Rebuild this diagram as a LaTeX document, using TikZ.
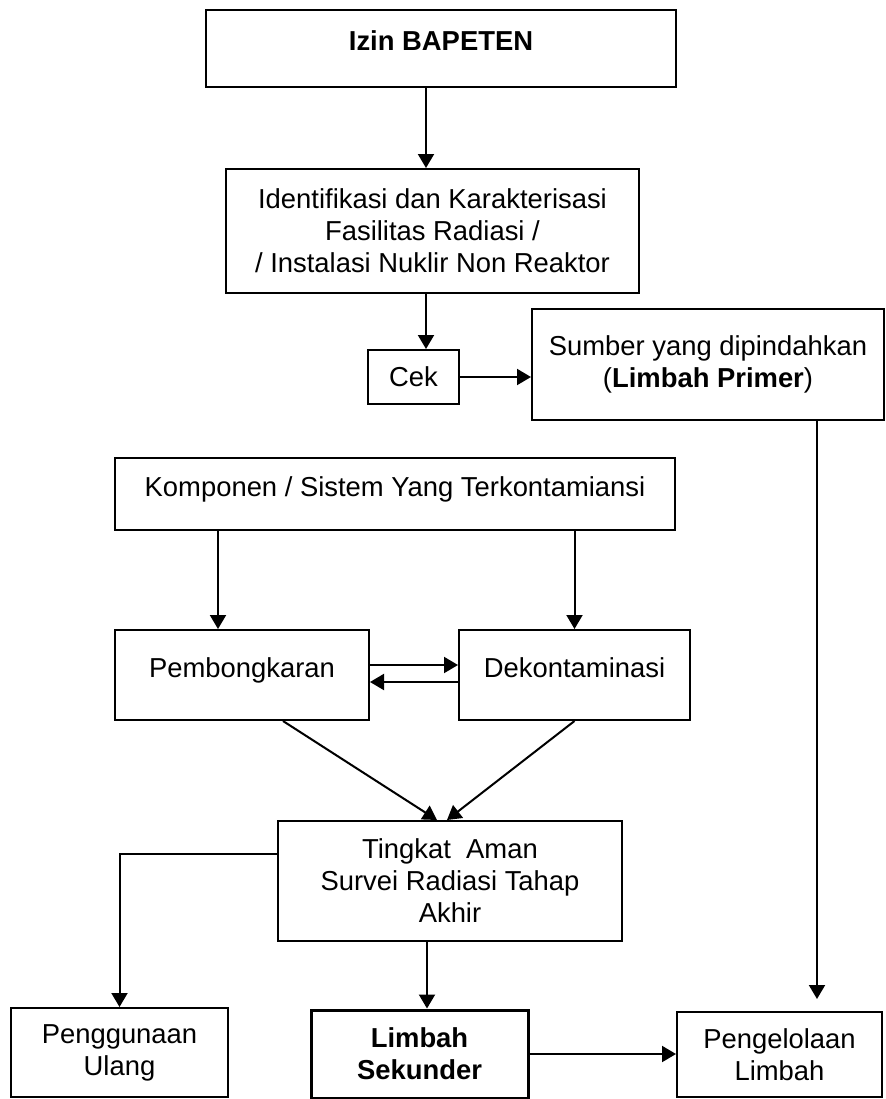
\documentclass[tikz,border=0pt]{standalone}
\usepackage{fontspec}
\setmainfont{Liberation Sans}
\usetikzlibrary{arrows.meta}

\begin{document}
\begin{tikzpicture}[x=0.5pt,y=-0.5pt,
  box/.style={draw,line width=1pt,align=center,inner sep=0pt,font=\fontsize{13.7}{16}\selectfont},
  up/.style={text height=10pt,text depth=8pt},
  arr/.style={-{Triangle[length=7pt,width=8pt]},line width=1pt}]
  \useasboundingbox (0,0) rectangle (886,1099);
  \node[box,up,minimum width=235pt,minimum height=38.5pt] (izin) at (441,48.5) {\textbf{Izin BAPETEN}};
  \node[box,minimum width=206.5pt,minimum height=62pt] (ident) at (432.5,231) {Identifikasi dan Karakterisasi\\Fasilitas Radiasi /\\/ Instalasi Nuklir Non Reaktor};
  \node[box,minimum width=45.5pt,minimum height=27pt] (cek) at (413.5,377) {Cek};
  \node[box,minimum width=176pt,minimum height=55.5pt] (sumber) at (708,364.5) {Sumber yang dipindahkan\\(\textbf{Limbah Primer})};
  \node[box,up,minimum width=280pt,minimum height=36pt] (komp) at (395,494) {Komponen / Sistem Yang Terkontamiansi};
  \node[box,up,minimum width=127pt,minimum height=45pt] (pemb) at (242,675) {Pembongkaran};
  \node[box,up,minimum width=115.5pt,minimum height=45pt] (dekon) at (574.5,675) {Dekontaminasi};
  \node[box,minimum width=172pt,minimum height=60pt] (ting) at (450,881) {Tingkat~ Aman\\Survei Radiasi Tahap\\Akhir};
  \node[box,minimum width=108.5pt,minimum height=44.5pt] (guna) at (119.5,1052.5) {Penggunaan\\Ulang};
  \node[box,line width=1.5pt,minimum width=108.5pt,minimum height=44pt] (lims) at (419.5,1054) {\textbf{Limbah}\\\textbf{Sekunder}};
  \node[box,minimum width=102.5pt,minimum height=42.5pt] (kelola) at (779.5,1054.5) {Pengelolaan\\Limbah};
  \draw[arr] ([xshift=-3.25pt]ident.north |- izin.south) -- ([xshift=-3.25pt]ident.north);
  \draw[arr] ([xshift=6.25pt]cek.north |- ident.south) -- ([xshift=6.25pt]cek.north);
  \draw[arr] (cek.east) -- (cek.east -| sumber.west);
  \draw[arr,shorten >=6pt] ([xshift=54.5pt]sumber.south) -- ([xshift=54.5pt]sumber.south |- kelola.north);
  \draw[arr] ([xshift=-12pt]pemb.north |- komp.south) -- ([xshift=-12pt]pemb.north);
  \draw[arr] (dekon.north |- komp.south) -- (dekon.north);
  \draw[arr] ([yshift=5pt]pemb.east) -- ([yshift=5pt]pemb.east -| dekon.west);
  \draw[arr] ([yshift=-3.5pt]dekon.west) -- ([yshift=-3.5pt]dekon.west -| pemb.east);
  \draw[arr] ([xshift=20.5pt]pemb.south) -- ([xshift=-6.5pt]ting.north);
  \draw[arr] (dekon.south) -- ([xshift=-1.5pt]ting.north);
  \draw[arr] ([yshift=13.5pt]ting.west) -| (guna.north);
  \draw[arr] ([xshift=-11.5pt]ting.south) -- ([xshift=-11.5pt]ting.south |- lims.north);
  \draw[arr] (lims.east) -- (lims.east -| kelola.west);
\end{tikzpicture}
\end{document}
